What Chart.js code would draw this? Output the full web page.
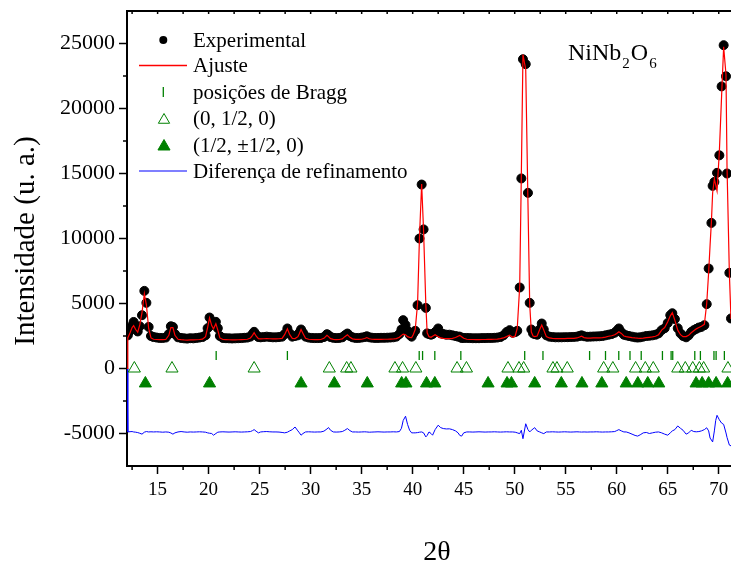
<!DOCTYPE html>
<html>
<head>
<meta charset="utf-8">
<title>NiNb2O6 - refinamento</title>
<script src="https://cdn.jsdelivr.net/npm/chart.js@4.4.0/dist/chart.umd.min.js"></script>
<style>
  html, body { margin: 0; padding: 0; background: #fff; }
  #wrap { width: 731px; height: 567px; }
</style>
</head>
<body>
<div id="wrap"><canvas id="chart" width="731" height="567"></canvas></div>
<script>
// 2theta grid shared by experimental, fit and difference
const twoTheta = [
  12.00, 12.08, 12.3, 12.5, 12.65, 12.85, 13.05, 13.25, 13.47, 13.7,
  13.9, 14.12, 14.35, 14.6, 14.9, 15.2, 15.5, 15.8, 16.1, 16.3,
  16.5, 16.7, 17.0, 17.3, 17.6, 17.9, 18.2, 18.5, 18.8, 19.1,
  19.4, 19.7, 19.9, 20.09, 20.3, 20.48, 20.71, 20.9, 21.1, 21.4,
  21.7, 22.0, 22.3, 22.6, 22.9, 23.2, 23.5, 23.8, 24.1, 24.3,
  24.46, 24.65, 24.88, 25.1, 25.4, 25.7, 26.0, 26.3, 26.6, 26.9,
  27.2, 27.45, 27.72, 27.95, 28.2, 28.47, 28.75, 28.9, 29.06, 29.25,
  29.5, 29.8, 30.1, 30.4, 30.7, 31.0, 31.3, 31.6, 31.75, 31.95,
  32.22, 32.5, 32.8, 33.1, 33.35, 33.6, 33.85, 34.1, 34.4, 34.7,
  35.0, 35.3, 35.5, 35.75, 36.0, 36.3, 36.6, 36.9, 37.2, 37.5,
  37.8, 38.1, 38.4, 38.7, 38.9, 39.07, 39.3, 39.5, 39.7, 39.9,
  40.05, 40.25, 40.48, 40.67, 40.88, 41.07, 41.29, 41.42, 41.6, 41.8,
  41.95, 42.2, 42.5, 42.75, 43.0, 43.3, 43.6, 43.9, 44.2, 44.45,
  44.62, 44.8, 45.0, 45.3, 45.6, 45.9, 46.2, 46.5, 46.8, 47.1,
  47.4, 47.7, 48.0, 48.3, 48.6, 48.9, 49.2, 49.5, 49.8, 50.05,
  50.25, 50.49, 50.65, 50.81, 51.08, 51.3, 51.47, 51.63, 51.8, 51.96,
  52.2, 52.45, 52.65, 52.85, 53.1, 53.4, 53.7, 54.0, 54.3, 54.6,
  54.9, 55.2, 55.5, 55.8, 56.1, 56.35, 56.55, 56.8, 57.1, 57.4,
  57.7, 58.0, 58.3, 58.6, 58.9, 59.2, 59.5, 59.8, 60.0, 60.21,
  60.45, 60.7, 60.93, 61.2, 61.5, 61.8, 62.05, 62.3, 62.6, 62.9,
  63.2, 63.5, 63.8, 64.1, 64.4, 64.7, 65.0, 65.25, 65.45, 65.7,
  65.98, 66.25, 66.5, 66.8, 67.05, 67.3, 67.55, 67.8, 68.05, 68.3,
  68.59, 68.82, 69.01, 69.15, 69.28, 69.4, 69.57, 69.7, 69.83, 70.06,
  70.28, 70.48, 70.71, 70.81, 71.04, 71.2
];

const experimental = [
  null, 2550, 2900, 3300, 3580, 3150, 2850, 3250, 4100, 5970,
  5050, 3200, 2500, 2420, 2380, 2350, 2350, 2380, 2650, 3250,
  3200, 2650, 2400, 2350, 2320, 2300, 2330, 2320, 2350, 2380,
  2420, 2550, 3100, 3920, 3450, 3350, 3590, 3100, 2500, 2350,
  2330, 2320, 2310, 2320, 2330, 2340, 2360, 2380, 2450, 2650,
  2820, 2600, 2420, 2400, 2420, 2450, 2420, 2400, 2400, 2420,
  2450, 2650, 3080, 2700, 2450, 2500, 2550, 2750, 3000, 2750,
  2450, 2380, 2350, 2340, 2340, 2350, 2420, 2640, 2560, 2420,
  2360, 2340, 2350, 2400, 2550, 2690, 2500, 2400, 2350, 2350,
  2380, 2420, 2480, 2400, 2370, 2350, 2350, 2360, 2360, 2370,
  2380, 2400, 2450, 2650, 3000, 3720, 3350, 2900, 2600, 2450,
  2690, 2900, 4870, 10000, 14150, 10700, 4660, 2700, 2650, 2600,
  2650, 2800, 3080, 2700, 2650, 2600, 2600, 2550, 2500, 2450,
  2450, 2350, 2350, 2350, 2340, 2330, 2330, 2330, 2340, 2340,
  2350, 2350, 2360, 2380, 2420, 2550, 2800, 2950, 2750, 2800,
  2900, 6230, 14620, 23790, 23410, 13510, 5050, 3000, 2700, 2650,
  2600, 3000, 3460, 3000, 2550, 2450, 2420, 2400, 2400, 2400,
  2410, 2410, 2420, 2430, 2450, 2500, 2550, 2480, 2440, 2450,
  2460, 2470, 2480, 2500, 2550, 2600, 2650, 2750, 2900, 3080,
  2800, 2600, 2550, 2500, 2450, 2400, 2380, 2400, 2450, 2500,
  2520, 2550, 2600, 2700, 2950, 3100, 3500, 4100, 4250, 3800,
  3100, 2700, 2500, 2400, 2550, 2800, 2950, 3050, 3150, 3200,
  3330, 4950, 7690, null, 11200, 14050, 14350, null, 15050, 16400,
  21700, 24870, 22480, 15000, 7360, 3850
];

const fit = [
  0, 2350, 2750, 3150, 3300, 3000, 2800, 3350, 4300, 5750,
  4900, 3100, 2350, 2250, 2230, 2220, 2220, 2230, 2550, 3150,
  3150, 2550, 2250, 2220, 2200, 2190, 2200, 2200, 2210, 2230,
  2260, 2450, 3150, 3900, 3300, 3050, 3450, 2950, 2350, 2230,
  2220, 2210, 2200, 2200, 2210, 2220, 2230, 2250, 2350, 2550,
  2750, 2500, 2300, 2280, 2290, 2300, 2290, 2280, 2280, 2290,
  2320, 2600, 3050, 2600, 2320, 2300, 2450, 2700, 3000, 2700,
  2320, 2250, 2230, 2220, 2220, 2230, 2320, 2550, 2450, 2300,
  2240, 2220, 2230, 2280, 2450, 2600, 2400, 2280, 2240, 2240,
  2250, 2310, 2380, 2290, 2250, 2240, 2240, 2240, 2250, 2250,
  2260, 2270, 2300, 2400, 2550, 2650, 2600, 2450, 2400, 2380,
  2600, 3000, 5000, 10200, 14200, 10550, 4900, 2750, 2450, 2400,
  2480, 2600, 2450, 2350, 2320, 2300, 2300, 2320, 2380, 2480,
  2550, 2450, 2330, 2250, 2230, 2230, 2220, 2220, 2230, 2230,
  2240, 2240, 2250, 2260, 2300, 2350, 2450, 2560, 2400, 2500,
  3100, 6300, 14900, 24150, 23000, 12750, 4950, 2800, 2500, 2450,
  2500, 3000, 3350, 2950, 2450, 2350, 2320, 2300, 2300, 2300,
  2300, 2310, 2310, 2320, 2350, 2420, 2480, 2380, 2330, 2340,
  2350, 2350, 2360, 2380, 2420, 2480, 2520, 2600, 2700, 2820,
  2700, 2500, 2450, 2420, 2380, 2350, 2330, 2320, 2330, 2370,
  2400, 2430, 2480, 2600, 2950, 3150, 3600, 4050, 4300, 3700,
  2950, 2600, 2450, 2450, 2550, 2750, 2900, 3050, 3150, 3250,
  3400, 5000, 7400, 9500, 11300, 13500, 14600, 14100, 13650, 16700,
  21000, 24740, 22600, 15500, 7300, 3800
];

const difference = [
  0, -4880, -4860, -4850, -4880, -4900, -4930, -4980, -5050, -4900,
  -4850, -4880, -4870, -4880, -4870, -4880, -4900, -4880, -4900, -4960,
  -5050, -4950, -4880, -4850, -4880, -4900, -4880, -4890, -4880, -4870,
  -4880, -4900, -4950, -4980, -5000, -5130, -5000, -4900, -4880, -4870,
  -4880, -4890, -4880, -4870, -4880, -4890, -4880, -4870, -4850, -4780,
  -4700, -4820, -4950, -4880, -4860, -4850, -4870, -4880, -4880, -4890,
  -4920, -4950, -4900, -4800, -4700, -4500, -4800, -4950, -5130, -5000,
  -4880, -4870, -4880, -4890, -4880, -4880, -4820, -4650, -4540, -4750,
  -4880, -4890, -4880, -4850, -4750, -4620, -4780, -4880, -4880, -4890,
  -4880, -4870, -4880, -4900, -4890, -4880, -4870, -4880, -4890, -4880,
  -4880, -4870, -4880, -4850, -4600, -4000, -3670, -4300, -4750, -4950,
  -4950, -4950, -4930, -4900, -4880, -4950, -5260, -5150, -4880, -5000,
  -5130, -4700, -4360, -4550, -4620, -4650, -4640, -4700, -4800, -4950,
  -5150, -5200, -4950, -4880, -4880, -4890, -4880, -4870, -4880, -4890,
  -4880, -4880, -4870, -4880, -4890, -4880, -4870, -4880, -4880, -4900,
  -4950, -5010, -4750, -5400, -4250, -4700, -4880, -4750, -4650, -4550,
  -4800, -4880, -4950, -5010, -4880, -4880, -4870, -4880, -4890, -4880,
  -4870, -4880, -4890, -4880, -4870, -4880, -4890, -4880, -4890, -4880,
  -4880, -4870, -4880, -4890, -4880, -4880, -4870, -4850, -4780, -4700,
  -4800, -4880, -4880, -4950, -5050, -5150, -5200, -5100, -4950, -4920,
  -5000, -4950, -4900, -4880, -4950, -5050, -5130, -4950, -4800, -4700,
  -4420, -4600, -4750, -5050, -4950, -4750, -4850, -4870, -4850, -4800,
  -4700, -4560, -4800, -5350, -5500, -5650, -4800, -4000, -3600, -3950,
  -4200, -4300, -4960, -5300, -5890, -5950
];

// reflection markers
const braggPositions = [20.74, 27.72, 40.64, 40.97, 42.17, 44.72, 50.98, 52.77, 57.34, 58.9,
  60.2, 61.3, 62.4, 64.48, 65.33, 65.49, 67.65, 68.2, 69.53, 69.74, 70.55];
const braggLevel = 1000;
const halfZeroPositions = [12.72, 16.41, 24.46, 31.83, 33.53, 33.95, 38.26, 39.01, 40.31, 44.35,
  45.27, 49.34, 50.42, 50.88, 53.75, 54.14, 55.15, 58.72, 59.62, 61.85, 62.8, 63.58,
  65.98, 66.72, 67.45, 68.1, 68.52, 70.9];
const halfZeroLevel = 0;
const halfHalfPositions = [13.8, 20.09, 29.06, 32.32, 35.55, 38.92, 39.34, 41.36, 42.17, 47.39,
  49.25, 49.68, 51.96, 54.57, 56.59, 58.54, 60.93, 62.07, 63.04, 64.12, 67.78, 68.37,
  69.01, 69.74, 70.87];
const halfHalfLevel = -1150;

const xTicks = [15, 20, 25, 30, 35, 40, 45, 50, 55, 60, 65, 70];
const xMinorTicks = [12.5, 17.5, 22.5, 27.5, 32.5, 37.5, 42.5, 47.5, 52.5, 57.5, 62.5, 67.5];
const yTicks = [-5000, 0, 5000, 10000, 15000, 20000, 25000];
const yMinorTicks = [-2500, 2500, 7500, 12500, 17500, 22500];

const legendLabels = ['Experimental', 'Ajuste', 'posições de Bragg', '(0, 1/2, 0)',
  '(1/2, \u00b11/2, 0)', 'Diferença de refinamento'];

const SERIF = '"Liberation Serif", "Times New Roman", serif';
const GREEN = '#008000';

Chart.defaults.font.family = SERIF;
Chart.defaults.color = '#000';

function onGrid(values) {
  return twoTheta.map((x, i) => ({ x: x, y: values[i] }));
}

function atLevel(positions, level) {
  return positions.map(x => ({ x: x, y: level }));
}

function strokeLine(ctx, x1, y1, x2, y2) {
  ctx.beginPath();
  ctx.moveTo(x1, y1);
  ctx.lineTo(x2, y2);
  ctx.stroke();
}

// frame, minor ticks, legend, labels
const decorations = {
  id: 'decorations',
  afterDraw(chart) {
    const ctx = chart.ctx;
    const a = chart.chartArea;
    const xs = chart.scales.x;
    const ys = chart.scales.y;
    ctx.save();

    ctx.strokeStyle = '#000';
    ctx.lineWidth = 1.5;
    xMinorTicks.forEach(v => {
      const px = xs.getPixelForValue(v);
      strokeLine(ctx, px, a.bottom, px, a.bottom + 4);
    });
    xTicks.concat(xMinorTicks).forEach(v => {
      const px = xs.getPixelForValue(v);
      strokeLine(ctx, px, a.top, px, a.top + 3);
    });
    yMinorTicks.forEach(v => {
      const py = ys.getPixelForValue(v);
      strokeLine(ctx, a.left, py, a.left - 4, py);
    });
    ctx.lineWidth = 2;
    strokeLine(ctx, a.left - 1, a.top, a.right, a.top);

    // legend
    const textX = 193;
    const rowY = [40, 65.5, 92, 118.5, 145, 171];
    ctx.fillStyle = '#000';
    ctx.beginPath();
    ctx.arc(163.3, rowY[0], 4, 0, Math.PI * 2);
    ctx.fill();
    ctx.strokeStyle = '#ff0000';
    ctx.lineWidth = 1.4;
    strokeLine(ctx, 139, rowY[1], 187, rowY[1]);
    ctx.strokeStyle = GREEN;
    ctx.lineWidth = 1.3;
    strokeLine(ctx, 163.3, rowY[2] - 5, 163.3, rowY[2] + 5);
    ctx.lineWidth = 1;
    ctx.fillStyle = 'rgba(0,0,0,0)';
    Chart.helpers.drawPoint(ctx, { pointStyle: 'triangle', radius: 6.5, rotation: 0, borderWidth: 1 }, 164, rowY[3] + 1.5);
    ctx.fillStyle = GREEN;
    Chart.helpers.drawPoint(ctx, { pointStyle: 'triangle', radius: 7, rotation: 0, borderWidth: 1 }, 164, rowY[4] + 1.5);
    ctx.strokeStyle = '#0000ff';
    ctx.lineWidth = 1.2;
    strokeLine(ctx, 139, rowY[5], 187, rowY[5]);

    ctx.fillStyle = '#000';
    ctx.font = '21px ' + SERIF;
    ctx.textAlign = 'left';
    ctx.textBaseline = 'alphabetic';
    legendLabels.forEach((t, i) => ctx.fillText(t, textX, rowY[i] + 6.5));

    // compound name with subscripts
    let cx = 568;
    const base = 60;
    const parts = [['NiNb', 0, 24], ['2', 8, 15], ['O', 0, 24], ['6', 8, 15]];
    parts.forEach(p => {
      ctx.font = p[2] + 'px ' + SERIF;
      ctx.fillText(p[0], cx, base + p[1]);
      cx += ctx.measureText(p[0]).width + 1;
    });

    // axis titles
    ctx.font = '29px ' + SERIF;
    ctx.textAlign = 'center';
    ctx.textBaseline = 'middle';
    ctx.save();
    ctx.translate(26, 241);
    ctx.rotate(-Math.PI / 2);
    ctx.fillText('Intensidade (u. a.)', 0, 0);
    ctx.restore();
    ctx.font = '28px ' + SERIF;
    ctx.fillText('2\u03b8', 437, 553);

    ctx.restore();
  }
};

const chart = new Chart(document.getElementById('chart'), {
  type: 'scatter',
  data: {
    datasets: [
      {
        label: 'Ajuste',
        data: onGrid(fit),
        showLine: true,
        borderColor: '#ff0000',
        borderWidth: 1.2,
        pointRadius: 0,
        tension: 0,
        order: 0
      },
      {
        label: 'Experimental',
        data: onGrid(experimental),
        pointRadius: 4.5,
        pointBackgroundColor: '#000',
        pointBorderColor: '#000',
        pointBorderWidth: 1,
        order: 1
      },
      {
        label: 'posições de Bragg',
        data: atLevel(braggPositions, braggLevel),
        pointStyle: 'line',
        pointRotation: 90,
        pointRadius: 4.5,
        pointBorderColor: GREEN,
        pointBorderWidth: 1.3,
        order: 2
      },
      {
        label: '(0, 1/2, 0)',
        data: atLevel(halfZeroPositions, halfZeroLevel),
        pointStyle: 'triangle',
        pointRadius: 7,
        pointBackgroundColor: 'rgba(0,0,0,0)',
        pointBorderColor: GREEN,
        pointBorderWidth: 1,
        order: 3
      },
      {
        label: '(1/2, \u00b11/2, 0)',
        data: atLevel(halfHalfPositions, halfHalfLevel),
        pointStyle: 'triangle',
        pointRadius: 7,
        pointBackgroundColor: GREEN,
        pointBorderColor: GREEN,
        pointBorderWidth: 1,
        order: 4
      },
      {
        label: 'Diferença de refinamento',
        data: onGrid(difference),
        showLine: true,
        borderColor: '#0000ff',
        borderWidth: 1,
        pointRadius: 0,
        tension: 0,
        order: 5
      }
    ]
  },
  options: {
    responsive: false,
    animation: false,
    events: [],
    layout: { autoPadding: false, padding: { top: 11, right: 0, bottom: 0, left: 0 } },
    plugins: { legend: { display: false }, tooltip: { enabled: false } },
    scales: {
      x: {
        type: 'linear',
        min: 12,
        max: 71.2,
        afterBuildTicks: s => { s.ticks = xTicks.map(v => ({ value: v })); },
        afterFit: s => { s.height = 101; s.paddingLeft = 0; s.paddingRight = 0; },
        grid: { drawOnChartArea: false, drawTicks: true, tickLength: 8, tickColor: '#000', tickWidth: 1.5 },
        border: { display: true, color: '#000', width: 2 },
        ticks: { font: { size: 19 }, color: '#000', padding: 5, maxRotation: 0, autoSkip: false, callback: v => String(v) }
      },
      y: {
        type: 'linear',
        min: -7500,
        max: 27500,
        afterBuildTicks: s => { s.ticks = yTicks.map(v => ({ value: v })); },
        afterFit: s => { s.width = 127; s.paddingTop = 0; s.paddingBottom = 0; },
        grid: { drawOnChartArea: false, drawTicks: true, tickLength: 8, tickColor: '#000', tickWidth: 1.5 },
        border: { display: true, color: '#000', width: 2 },
        ticks: { font: { size: 22 }, color: '#000', padding: 4, autoSkip: false, callback: v => String(v) }
      }
    }
  },
  plugins: [decorations]
});
</script>
</body>
</html>
